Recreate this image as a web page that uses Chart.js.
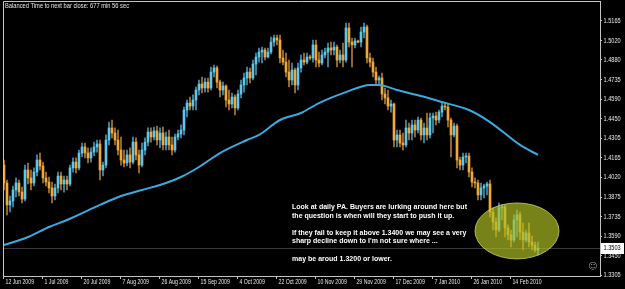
<!DOCTYPE html>
<html>
<head>
<meta charset="utf-8">
<script src="https://cdn.jsdelivr.net/npm/chart.js@4.4.1/dist/chart.umd.min.js"></script>
<style>
  html, body { margin: 0; padding: 0; background: #000; }
  #wrap { width: 625px; height: 289px; }
</style>
</head>
<body>
<div id="wrap"><canvas id="chart" width="625" height="289"></canvas></div>
<script>
// Daily candles, 12 Jun 2009 .. 22 Feb 2010
const opens = [
  1.4111, 1.3980, 1.3820, 1.3849, 1.3929, 1.3980, 1.3914, 1.3863, 1.4075, 1.4017,
  1.3980, 1.4060, 1.4148, 1.4104, 1.4017, 1.3987, 1.3944, 1.3885, 1.3944, 1.4031,
  1.3973, 1.4002, 1.3973, 1.4090, 1.4133, 1.4090, 1.4199, 1.4243, 1.4199, 1.4163,
  1.4206, 1.4243, 1.4265, 1.4075, 1.4111, 1.4294, 1.4382, 1.4345, 1.4294, 1.4221,
  1.4148, 1.4126, 1.4185, 1.4133, 1.4279, 1.4185, 1.4111, 1.4221, 1.4279, 1.4352,
  1.4316, 1.4360, 1.4294, 1.4345, 1.4258, 1.4316, 1.4258, 1.4221, 1.4316, 1.4338,
  1.4367, 1.4513, 1.4564, 1.4542, 1.4586, 1.4659, 1.4703, 1.4674, 1.4717, 1.4674,
  1.4790, 1.4820, 1.4717, 1.4659, 1.4688, 1.4586, 1.4557, 1.4608, 1.4528, 1.4630,
  1.4696, 1.4747, 1.4790, 1.4747, 1.4849, 1.4900, 1.4936, 1.4951, 1.4900, 1.4936,
  1.5009, 1.5039, 1.5024, 1.4893, 1.4863, 1.4790, 1.4732, 1.4805, 1.4696, 1.4820,
  1.4878, 1.4863, 1.4900, 1.4893, 1.4988, 1.4878, 1.4856, 1.4915, 1.4936, 1.4966,
  1.4951, 1.4973, 1.4878, 1.4915, 1.4878, 1.5112, 1.5009, 1.4988, 1.5017, 1.5009,
  1.5082, 1.5119, 1.4893, 1.4863, 1.4790, 1.4732, 1.4747, 1.4630, 1.4601, 1.4542,
  1.4557, 1.4294, 1.4331, 1.4272, 1.4258, 1.4382, 1.4345, 1.4404, 1.4367, 1.4440,
  1.4331, 1.4382, 1.4331, 1.4455, 1.4469, 1.4440, 1.4498, 1.4542, 1.4535, 1.4440,
  1.4331, 1.4396, 1.4148, 1.4111, 1.4170, 1.4177, 1.4060, 1.3987, 1.3980, 1.3893,
  1.3944, 1.3958, 1.3973, 1.3768, 1.3695, 1.3637, 1.3798, 1.3805, 1.3652, 1.3601,
  1.3564, 1.3710, 1.3747, 1.3622, 1.3564, 1.3615, 1.3549, 1.3527, 1.3491
];
const highs = [
  1.4148, 1.4002, 1.3885, 1.3958, 1.4017, 1.4002, 1.3951, 1.4111, 1.4126, 1.4075,
  1.4090, 1.4185, 1.4199, 1.4133, 1.4060, 1.4024, 1.3987, 1.3973, 1.4060, 1.4060,
  1.4031, 1.4031, 1.4111, 1.4163, 1.4163, 1.4221, 1.4272, 1.4272, 1.4236, 1.4236,
  1.4279, 1.4294, 1.4294, 1.4133, 1.4331, 1.4425, 1.4440, 1.4382, 1.4367, 1.4316,
  1.4221, 1.4221, 1.4236, 1.4316, 1.4309, 1.4221, 1.4272, 1.4309, 1.4382, 1.4382,
  1.4389, 1.4396, 1.4382, 1.4389, 1.4352, 1.4367, 1.4316, 1.4338, 1.4367, 1.4404,
  1.4535, 1.4586, 1.4608, 1.4623, 1.4681, 1.4732, 1.4754, 1.4747, 1.4747, 1.4827,
  1.4842, 1.4834, 1.4732, 1.4717, 1.4696, 1.4659, 1.4637, 1.4623, 1.4659, 1.4732,
  1.4783, 1.4827, 1.4820, 1.4878, 1.4929, 1.4966, 1.4973, 1.4966, 1.4966, 1.5046,
  1.5060, 1.5060, 1.5060, 1.4951, 1.4929, 1.4878, 1.4856, 1.4820, 1.4856, 1.4915,
  1.4929, 1.4929, 1.4915, 1.5024, 1.5024, 1.4936, 1.4951, 1.4966, 1.5002, 1.5009,
  1.5009, 1.4988, 1.4951, 1.5002, 1.5148, 1.5148, 1.5039, 1.5039, 1.5024, 1.5119,
  1.5148, 1.5134, 1.4929, 1.4893, 1.4827, 1.4761, 1.4783, 1.4674, 1.4659, 1.4586,
  1.4564, 1.4367, 1.4367, 1.4345, 1.4440, 1.4418, 1.4440, 1.4440, 1.4462, 1.4455,
  1.4418, 1.4491, 1.4491, 1.4491, 1.4498, 1.4513, 1.4564, 1.4564, 1.4557, 1.4455,
  1.4418, 1.4411, 1.4170, 1.4199, 1.4199, 1.4199, 1.4090, 1.4017, 1.4002, 1.3980,
  1.3973, 1.3987, 1.4002, 1.3798, 1.3725, 1.3834, 1.3820, 1.3820, 1.3674, 1.3637,
  1.3747, 1.3783, 1.3768, 1.3688, 1.3637, 1.3688, 1.3593, 1.3549, 1.3549
];
const lows = [
  1.3929, 1.3747, 1.3768, 1.3805, 1.3878, 1.3885, 1.3834, 1.3849, 1.3973, 1.3929,
  1.3958, 1.4031, 1.4075, 1.3980, 1.3958, 1.3907, 1.3834, 1.3856, 1.3907, 1.3929,
  1.3914, 1.3929, 1.3958, 1.4060, 1.4053, 1.4075, 1.4170, 1.4163, 1.4126, 1.4133,
  1.4177, 1.4206, 1.4002, 1.4031, 1.4090, 1.4258, 1.4309, 1.4258, 1.4185, 1.4111,
  1.4097, 1.4104, 1.4090, 1.4119, 1.4148, 1.4053, 1.4097, 1.4185, 1.4250, 1.4279,
  1.4294, 1.4258, 1.4236, 1.4221, 1.4221, 1.4221, 1.4185, 1.4206, 1.4294, 1.4309,
  1.4331, 1.4462, 1.4513, 1.4513, 1.4513, 1.4623, 1.4637, 1.4644, 1.4644, 1.4659,
  1.4754, 1.4674, 1.4608, 1.4623, 1.4535, 1.4513, 1.4528, 1.4477, 1.4513, 1.4601,
  1.4644, 1.4696, 1.4710, 1.4732, 1.4769, 1.4863, 1.4856, 1.4878, 1.4893, 1.4922,
  1.4980, 1.4988, 1.4856, 1.4842, 1.4754, 1.4681, 1.4696, 1.4637, 1.4659, 1.4790,
  1.4842, 1.4849, 1.4878, 1.4863, 1.4827, 1.4827, 1.4842, 1.4893, 1.4827, 1.4915,
  1.4915, 1.4827, 1.4856, 1.4827, 1.4863, 1.4973, 1.4827, 1.4966, 1.5002, 1.4973,
  1.5039, 1.4856, 1.4827, 1.4754, 1.4696, 1.4696, 1.4586, 1.4557, 1.4513, 1.4498,
  1.4243, 1.4243, 1.4243, 1.4221, 1.4243, 1.4294, 1.4294, 1.4316, 1.4345, 1.4294,
  1.4272, 1.4294, 1.4309, 1.4345, 1.4404, 1.4418, 1.4462, 1.4513, 1.4389, 1.4170,
  1.4316, 1.4090, 1.4075, 1.4075, 1.4126, 1.4024, 1.3951, 1.3944, 1.3856, 1.3856,
  1.3871, 1.3893, 1.3732, 1.3637, 1.3586, 1.3622, 1.3710, 1.3586, 1.3564, 1.3513,
  1.3549, 1.3586, 1.3564, 1.3491, 1.3549, 1.3513, 1.3491, 1.3476, 1.3454
];
const closes = [
  1.3980, 1.3820, 1.3849, 1.3929, 1.3980, 1.3914, 1.3863, 1.4075, 1.4017, 1.3980,
  1.4060, 1.4148, 1.4104, 1.4017, 1.3987, 1.3944, 1.3885, 1.3944, 1.4031, 1.3973,
  1.4002, 1.3973, 1.4090, 1.4133, 1.4090, 1.4199, 1.4243, 1.4199, 1.4163, 1.4206,
  1.4243, 1.4265, 1.4075, 1.4111, 1.4294, 1.4382, 1.4345, 1.4294, 1.4221, 1.4148,
  1.4126, 1.4185, 1.4133, 1.4279, 1.4185, 1.4111, 1.4221, 1.4279, 1.4352, 1.4316,
  1.4360, 1.4294, 1.4345, 1.4258, 1.4316, 1.4258, 1.4221, 1.4316, 1.4338, 1.4367,
  1.4513, 1.4564, 1.4542, 1.4586, 1.4659, 1.4703, 1.4674, 1.4717, 1.4674, 1.4790,
  1.4820, 1.4717, 1.4659, 1.4688, 1.4586, 1.4557, 1.4608, 1.4528, 1.4630, 1.4696,
  1.4747, 1.4790, 1.4747, 1.4849, 1.4900, 1.4936, 1.4951, 1.4900, 1.4936, 1.5009,
  1.5039, 1.5024, 1.4893, 1.4863, 1.4790, 1.4732, 1.4805, 1.4696, 1.4820, 1.4878,
  1.4863, 1.4900, 1.4893, 1.4988, 1.4878, 1.4856, 1.4915, 1.4936, 1.4966, 1.4951,
  1.4973, 1.4878, 1.4915, 1.4878, 1.5112, 1.5009, 1.4988, 1.5017, 1.5009, 1.5082,
  1.5119, 1.4893, 1.4863, 1.4790, 1.4732, 1.4747, 1.4630, 1.4601, 1.4542, 1.4557,
  1.4294, 1.4331, 1.4272, 1.4258, 1.4382, 1.4345, 1.4404, 1.4367, 1.4440, 1.4331,
  1.4382, 1.4331, 1.4455, 1.4469, 1.4440, 1.4498, 1.4542, 1.4535, 1.4440, 1.4331,
  1.4396, 1.4148, 1.4111, 1.4170, 1.4177, 1.4060, 1.3987, 1.3980, 1.3893, 1.3944,
  1.3958, 1.3973, 1.3768, 1.3695, 1.3637, 1.3798, 1.3805, 1.3652, 1.3601, 1.3564,
  1.3710, 1.3747, 1.3622, 1.3564, 1.3615, 1.3549, 1.3527, 1.3491, 1.3503
];

// moving average at these bar numbers
const maBars = [0, 8, 15, 21, 32, 39, 46, 54, 59, 65, 72, 81, 85, 92, 99, 105, 114, 122, 125, 131, 139, 146, 155, 162, 172, 178];
const maValues = [1.3527, 1.3586, 1.3659, 1.3710, 1.3820, 1.3885, 1.3929, 1.3980, 1.4024, 1.4097, 1.4199, 1.4294, 1.4331,
  1.4440, 1.4491, 1.4564, 1.4644, 1.4696, 1.4696, 1.4659, 1.4615, 1.4571, 1.4513, 1.4425, 1.4258, 1.4185];

const priceTicks = [1.5165, 1.5020, 1.4880, 1.4735, 1.4590, 1.4450, 1.4305, 1.4165, 1.4020, 1.3875, 1.3735, 1.3590, 1.3450, 1.3305];
const dateTickBars = [0, 13, 26, 39, 52, 65, 78, 91, 104, 117, 130, 143, 156, 169];
const dateTickLabels = ['12 Jun 2009', '1 Jul 2009', '20 Jul 2009', '7 Aug 2009', '26 Aug 2009', '15 Sep 2009', '4 Oct 2009',
  '22 Oct 2009', '10 Nov 2009', '29 Nov 2009', '17 Dec 2009', '7 Jan 2010', '26 Jan 2010', '14 Feb 2010'];

const comment = 'Balanced Time to next bar close: 677 min 56 sec';
const noteLines = [
  'Look at daily PA. Buyers are lurking around here but',
  'the question is when will they start to push it up.',
  '',
  'If they fail to keep it above 1.3400 we may see a very',
  "sharp decline down to I'm not sure where ...",
  '',
  'may be aroud 1.3200 or lower.'
];

const smallFont = '7px "Liberation Sans", Arial, sans-serif';
const frameClr = '#c4c4c4';
const textClr = '#e6e6e6';
const isUp = closes.map((c, i) => c >= opens[i]);
const lastClose = closes[closes.length - 1];

// the terminal font is narrower than anything installed, so squeeze it
function squeezedText(ctx, text, x, y, sx) {
  ctx.save();
  ctx.translate(x, y);
  ctx.scale(sx, 1);
  ctx.fillText(text, 0, 0);
  ctx.restore();
}

// background, bid line, ellipse, notes, frame, axis labels
const decor = {
  id: 'decor',
  beforeDraw(chart) {
    const { ctx, width, height } = chart;
    ctx.save();
    ctx.fillStyle = '#000';
    ctx.fillRect(0, 0, width, height);
    ctx.restore();
  },
  beforeDatasetsDraw(chart) {
    const { ctx, chartArea: a, scales: { y } } = chart;
    const py = Math.round(y.getPixelForValue(lastClose)) + 0.5;
    ctx.save();
    ctx.strokeStyle = '#3a3a3a';
    ctx.lineWidth = 1;
    ctx.beginPath();
    ctx.moveTo(a.left, py);
    ctx.lineTo(a.right, py);
    ctx.stroke();
    ctx.restore();
  },
  afterDatasetsDraw(chart) {
    const { ctx, scales: { x, y } } = chart;
    // highlighted zone
    const cx = x.getPixelForValue(171), cy = y.getPixelForValue(1.3630);
    ctx.save();
    ctx.beginPath();
    ctx.ellipse(cx, cy, 42, 28, 0, 0, Math.PI * 2);
    ctx.fillStyle = 'rgba(175, 192, 36, 0.68)';
    ctx.fill();
    ctx.strokeStyle = 'rgba(210, 220, 105, 0.75)';
    ctx.lineWidth = 1;
    ctx.stroke();
    ctx.restore();

    // note text
    ctx.save();
    ctx.font = 'bold 8px "Liberation Sans", Arial, sans-serif';
    ctx.fillStyle = '#ffffff';
    ctx.textBaseline = 'middle';
    const sx = 175 / ctx.measureText(noteLines[0]).width;
    const lineY = [207, 215.5, 0, 232.5, 241, 0, 259];
    noteLines.forEach((line, i) => {
      if (line) squeezedText(ctx, line, 292, lineY[i], sx);
    });
    ctx.restore();
  },
  afterDraw(chart) {
    const { ctx, chartArea: a, scales: { x, y } } = chart;
    ctx.save();
    // frame top / left
    ctx.strokeStyle = frameClr;
    ctx.lineWidth = 1;
    ctx.beginPath();
    ctx.moveTo(a.left + 0.5, a.bottom);
    ctx.lineTo(a.left + 0.5, a.top + 0.5);
    ctx.lineTo(a.right, a.top + 0.5);
    ctx.stroke();

    ctx.font = smallFont;
    ctx.fillStyle = textClr;
    ctx.textBaseline = 'middle';

    // axis labels at the library's tick positions
    dateTickBars.forEach((b, i) => {
      squeezedText(ctx, dateTickLabels[i], x.getPixelForValue(b) + 1.5, a.bottom + 6.5, 0.74);
    });
    priceTicks.forEach(p => {
      squeezedText(ctx, p.toFixed(4), a.right + 3.5, y.getPixelForValue(p), 0.8);
    });

    // comment line
    squeezedText(ctx, comment, 5, 6.5, 124 / ctx.measureText(comment).width);

    // current price box
    const py = Math.round(y.getPixelForValue(lastClose));
    ctx.fillStyle = '#ffffff';
    ctx.fillRect(a.right + 1, py - 5, 23, 11);
    ctx.fillStyle = '#000000';
    squeezedText(ctx, lastClose.toFixed(4), a.right + 3.5, py + 0.5, 0.8);

    // expert smiley
    ctx.font = '9px "DejaVu Sans", sans-serif';
    ctx.fillStyle = '#9a9a9a';
    ctx.fillText('\u263A', a.right - 12, a.bottom - 9);
    ctx.restore();
  }
};

new Chart(document.getElementById('chart'), {
  type: 'bar',
  data: {
    datasets: [
      {
        type: 'line',
        label: 'MA',
        data: maBars.map((b, i) => ({ x: b, y: maValues[i] })),
        borderColor: '#3ba9e0',
        borderWidth: 2,
        pointRadius: 0,
        cubicInterpolationMode: 'monotone',
        order: 0
      },
      {
        label: 'body',
        data: opens.map((o, i) => ({ x: i, y: [o, closes[i]] })),
        backgroundColor: isUp.map(u => u ? '#62c6e8' : '#f0a83a'),
        barThickness: 2,
        minBarLength: 1,
        grouped: false,
        order: 1
      },
      {
        label: 'wick',
        data: lows.map((l, i) => ({ x: i, y: [l, highs[i]] })),
        backgroundColor: isUp.map(u => u ? '#4496b8' : '#b07a32'),
        barThickness: 1,
        grouped: false,
        order: 2
      }
    ]
  },
  options: {
    responsive: false,
    animation: false,
    layout: { padding: { left: 3, top: 1, right: 0, bottom: 0 } },
    plugins: { legend: { display: false }, tooltip: { enabled: false } },
    scales: {
      x: {
        type: 'linear',
        offset: false,
        min: -1 / 3,
        max: 198.67,
        afterBuildTicks: s => { s.ticks = dateTickBars.map(v => ({ value: v })); },
        afterFit: s => { s.height = 13; },
        grid: { offset: false, drawOnChartArea: false, color: frameClr, tickLength: 3 },
        border: { display: true, color: frameClr },
        ticks: { display: false }
      },
      y: {
        position: 'right',
        min: 1.3301,
        max: 1.5309,
        afterBuildTicks: s => { s.ticks = priceTicks.map(v => ({ value: v })); },
        afterFit: s => { s.width = 25; },
        grid: { drawOnChartArea: false, color: frameClr, tickLength: 2 },
        border: { display: true, color: frameClr },
        ticks: { display: false }
      }
    }
  },
  plugins: [decor]
});
</script>
</body>
</html>
